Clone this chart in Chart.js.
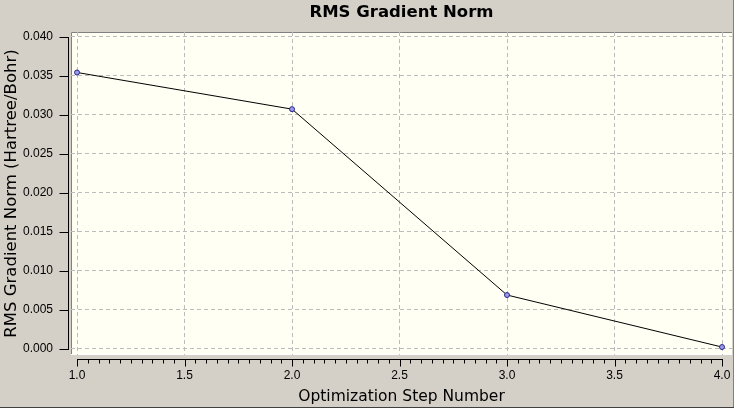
<!DOCTYPE html>
<html>
<head>
<meta charset="utf-8">
<script src="https://cdn.jsdelivr.net/npm/chart.js@4.4.1/dist/chart.umd.min.js"></script>
<style>
  html, body { margin: 0; padding: 0; background: #d4d0c8; overflow: hidden; }
  #wrap { width: 734px; height: 408px; position: relative; }
</style>
</head>
<body>
<div id="wrap"><canvas id="chart"></canvas></div>
<script>
// 优化步数与 RMS 梯度范数
const stepNumbers = [1, 2, 3, 4];
const rmsGradient = [0.03545, 0.03075, 0.00692, 0.00025];

// 刻度
const xTicks = [1.0, 1.5, 2.0, 2.5, 3.0, 3.5, 4.0];
const yTicks = [0.000, 0.005, 0.010, 0.015, 0.020, 0.025, 0.030, 0.035, 0.040];

// 背景、边框、轴线和刻度线
const panelPlugin = {
    id: 'panel',
    beforeDraw(chart) {
        const { ctx, chartArea: a, width, height } = chart;
        ctx.save();
        ctx.fillStyle = '#d4d0c8';
        ctx.fillRect(0, 0, width, height);
        ctx.fillStyle = '#fffff4';
        ctx.fillRect(a.left, a.top, a.right - a.left, a.bottom - a.top);
        ctx.lineWidth = 1;
        ctx.strokeStyle = '#808080';
        ctx.beginPath();
        ctx.moveTo(a.left + 0.5, a.bottom);
        ctx.lineTo(a.left + 0.5, a.top + 0.5);
        ctx.lineTo(a.right, a.top + 0.5);
        ctx.stroke();
        ctx.strokeStyle = '#ffffff';
        ctx.beginPath();
        ctx.moveTo(a.left, a.bottom - 0.5);
        ctx.lineTo(a.right, a.bottom - 0.5);
        ctx.stroke();
        ctx.restore();
    },
    afterDraw(chart) {
        const { ctx, chartArea: a, width, height } = chart;
        const xs = chart.scales.x, ys = chart.scales.y;
        ctx.save();
        ctx.strokeStyle = '#000';
        ctx.lineWidth = 1;

        // y 轴
        const yAxisX = a.left - 2.5;
        ctx.beginPath();
        ctx.moveTo(yAxisX, Math.round(ys.getPixelForValue(yTicks[yTicks.length - 1])));
        ctx.lineTo(yAxisX, Math.round(ys.getPixelForValue(yTicks[0])) + 1);
        yTicks.forEach(v => {
            const py = Math.round(ys.getPixelForValue(v)) + 0.5;
            ctx.moveTo(yAxisX - 9, py);
            ctx.lineTo(yAxisX, py);
        });
        ctx.stroke();

        // x 轴（主刻度 0.5，次刻度 0.05）
        const xAxisY = a.bottom + 4.5;
        const x0 = xTicks[0], x1 = xTicks[xTicks.length - 1];
        ctx.beginPath();
        ctx.moveTo(Math.round(xs.getPixelForValue(x0)), xAxisY);
        ctx.lineTo(Math.round(xs.getPixelForValue(x1)) + 1, xAxisY);
        const n = Math.round((x1 - x0) / 0.05);
        for (let i = 0; i <= n; i++) {
            const px = Math.round(xs.getPixelForValue(x0 + i * 0.05)) + 0.5;
            ctx.moveTo(px, xAxisY);
            ctx.lineTo(px, xAxisY + (i % 10 === 0 ? 7 : 4));
        }
        ctx.stroke();

        // 外框
        ctx.strokeStyle = '#808080';
        ctx.beginPath();
        ctx.moveTo(width - 0.5, 0);
        ctx.lineTo(width - 0.5, height);
        ctx.stroke();
        ctx.strokeStyle = '#404040';
        ctx.beginPath();
        ctx.moveTo(0, height - 0.5);
        ctx.lineTo(width, height - 0.5);
        ctx.stroke();
        ctx.restore();
    }
};

const tickFont = { family: 'Liberation Sans', size: 12 };

new Chart(document.getElementById('chart'), {
    type: 'line',
    data: {
        datasets: [{
            data: stepNumbers.map((s, i) => ({ x: s, y: rmsGradient[i] })),
            borderColor: '#000000',
            borderWidth: 1,
            pointRadius: 2.5,
            pointBackgroundColor: '#9a9ae6',
            pointBorderColor: '#28288c',
            pointBorderWidth: 1,
            tension: 0,
            fill: false
        }]
    },
    options: {
        animation: false,
        responsive: true,
        maintainAspectRatio: false,
        layout: { autoPadding: false, padding: { left: 0, right: 2, top: 0, bottom: 0 } },
        plugins: {
            legend: { display: false },
            tooltip: { enabled: false },
            title: {
                display: true,
                text: 'RMS Gradient Norm',
                fullSize: false,
                color: '#000',
                font: { family: 'DejaVu Sans', size: 16.5, weight: 'bold', lineHeight: 1.2 },
                padding: { top: 3, bottom: 9.2 }
            }
        },
        scales: {
            x: {
                type: 'linear',
                min: 0.972,
                max: 4.0465,
                afterBuildTicks: s => { s.ticks = xTicks.map(v => ({ value: v })); },
                afterFit: s => { s.height = 53; s.paddingLeft = 0; s.paddingRight = 0; },
                grid: { color: '#bcbcbc', drawTicks: false },
                border: { display: false, dash: [4, 3] },
                ticks: {
                    padding: 13, color: '#000', font: tickFont,
                    maxRotation: 0, autoSkip: false,
                    callback: v => Number(v).toFixed(1)
                },
                title: {
                    display: true,
                    text: 'Optimization Step Number',
                    color: '#000',
                    font: { family: 'DejaVu Sans', size: 15.5, lineHeight: 1.2 },
                    padding: { top: 0, bottom: 2 }
                }
            },
            y: {
                min: -0.00077,
                max: 0.04064,
                afterBuildTicks: s => { s.ticks = yTicks.map(v => ({ value: v })); },
                afterFit: s => { s.width = 71; s.paddingTop = 0; s.paddingBottom = 0; },
                grid: { color: '#bcbcbc', drawTicks: false },
                border: { display: false, dash: [4, 3] },
                ticks: {
                    padding: 18, color: '#000', font: tickFont,
                    autoSkip: false,
                    callback: v => Number(v).toFixed(3)
                },
                title: {
                    display: true,
                    text: 'RMS Gradient Norm (Hartree/Bohr)',
                    color: '#000',
                    font: { family: 'DejaVu Sans', size: 16.5, lineHeight: 1.2 },
                    padding: { top: 2, bottom: 0 }
                }
            }
        }
    },
    plugins: [panelPlugin]
});
</script>
</body>
</html>
